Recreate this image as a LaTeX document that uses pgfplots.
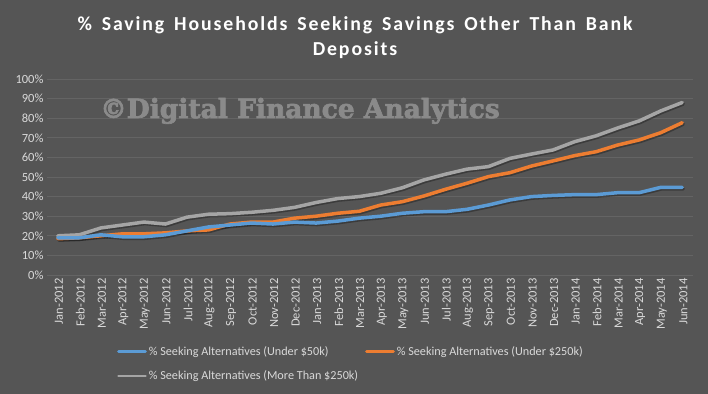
\documentclass[border=0pt]{standalone}
\usepackage{pgfplots}
\pgfplotsset{compat=1.18}
\usepackage{pgfplotstable}
\usepackage{fontspec}
\setmainfont{Carlito}
\newfontfamily\wmfont{DejaVu Serif}[BoldFeatures={FakeBold=2.5}]
\newfontfamily\titlefont{Carlito}[LetterSpace=9.5, WordSpace=1.55]
\definecolor{sblue}{HTML}{5B9BD5}
\definecolor{sorange}{HTML}{ED7D31}
\definecolor{sgray}{HTML}{A5A5A5}
\definecolor{ticktext}{HTML}{D9D9D9}
\definecolor{gridc}{HTML}{646464}
\definecolor{wmc}{HTML}{8A8A8A}
\pgfdeclareradialshading{bgshade}{\pgfpoint{0bp}{0bp}}{%
  color(0bp)=(rgb:red,0.35;green,0.35;blue,0.35);
  color(12bp)=(rgb:red,0.30;green,0.30;blue,0.30);
  color(25bp)=(rgb:red,0.20;green,0.20;blue,0.20);
  color(36bp)=(rgb:red,0.15;green,0.15;blue,0.15);
  color(50bp)=(rgb:red,0.15;green,0.15;blue,0.15)}

\pgfplotstableread{
i a b c
0 19 18.5 20
1 19 19 20.5
2 20.5 20 24
3 19.5 21 25.5
4 19.5 21 27
5 20.5 21.5 26
6 22.5 22.5 29.5
7 24.5 23 31
8 25.5 26 31.3
9 26.5 27 32
10 26 27 33
11 27 29 34.5
12 26.5 30 37
13 27.5 31.5 39
14 29 32.5 40
15 30 35.7 41.7
16 31.5 37.4 44.5
17 32.3 40.3 48.5
18 32.3 43.7 51.4
19 33.5 46.8 54
20 35.7 50.2 55.3
21 38.3 52.2 59.5
22 40 55.6 61.7
23 40.6 58.2 63.8
24 41 60.9 68
25 41 62.9 71
26 42 66.3 75
27 42 68.9 78.6
28 44.7 72.6 83.7
29 44.7 77.7 88
}\data

\begin{document}
\begin{tikzpicture}
\shade[shading=bgshade] (0,0) rectangle (708pt,393pt);
\node[anchor=base, text=white, font=\titlefont\bfseries\fontsize{19.8}{23}\selectfont] at (355pt,362pt) {\% Saving Households Seeking Savings Other Than Bank};
\node[anchor=base, text=white, font=\titlefont\bfseries\fontsize{19.8}{23}\selectfont] at (355pt,337pt) {Deposits};
\begin{axis}[
  at={(47pt,118pt)}, anchor=south west,
  scale only axis, width=646pt, height=196pt,
  xmin=-0.5, xmax=29.5, ymin=0, ymax=100,
  ytick={0,10,...,100},
  yticklabel={\pgfmathprintnumber{\tick}\%},
  /pgf/number format/assume math mode=true,
  xtick={0,...,29},
  xticklabels={Jan-2012,Feb-2012,Mar-2012,Apr-2012,May-2012,Jun-2012,Jul-2012,Aug-2012,Sep-2012,Oct-2012,Nov-2012,Dec-2012,Jan-2013,Feb-2013,Mar-2013,Apr-2013,May-2013,Jun-2013,Jul-2013,Aug-2013,Sep-2013,Oct-2013,Nov-2013,Dec-2013,Jan-2014,Feb-2014,Mar-2014,Apr-2014,May-2014,Jun-2014},
  xticklabel style={rotate=90, anchor=east, yshift=-1pt},
  tick label style={font=\fontsize{12.5}{13}\selectfont, text=ticktext},
  major tick length=0pt,
  axis line style={draw=none},
  ymajorgrids, grid style={gridc, line width=0.7pt},
  legend columns=2,
  legend cell align=left,
  legend style={at={(rel axis cs:0,0)}, anchor=north west, xshift=70pt, yshift=-69pt,
    draw=none, fill=none, text=ticktext, font=\fontsize{12.2}{13}\selectfont,
    inner sep=0pt, row sep=10pt,
    /tikz/every even column/.append style={column sep=5pt}},
  legend image code/.code={\draw[#1, line width=2.6pt] (0pt,0pt) -- (27pt,0pt);},
  every axis plot/.append style={line width=3.5pt, line join=round, line cap=round},
]
\addplot[black, opacity=0.3, xshift=1pt, yshift=-1.5pt, forget plot] table[x=i,y=c]{\data};
\addplot[black, opacity=0.3, xshift=1pt, yshift=-1.5pt, forget plot] table[x=i,y=b]{\data};
\addplot[black, opacity=0.3, xshift=1pt, yshift=-1.5pt, forget plot] table[x=i,y=a]{\data};
\addplot[sgray, forget plot] table[x=i,y=c]{\data};
\addplot[sorange, forget plot] table[x=i,y=b]{\data};
\addplot[sblue, forget plot] table[x=i,y=a]{\data};
\addlegendimage{sblue}
\addlegendentry{\% Seeking Alternatives (Under \$50k)}
\addlegendimage{sorange}
\addlegendentry{\% Seeking Alternatives (Under \$250k)}
\addlegendimage{sgray}
\addlegendentry{\% Seeking Alternatives (More Than \$250k)}
\end{axis}
\node[anchor=base, text=wmc, font=\wmfont\bfseries\fontsize{26.5}{28}\selectfont] at (300pt,275pt) {©Digital Finance Analytics};
\end{tikzpicture}
\end{document}
